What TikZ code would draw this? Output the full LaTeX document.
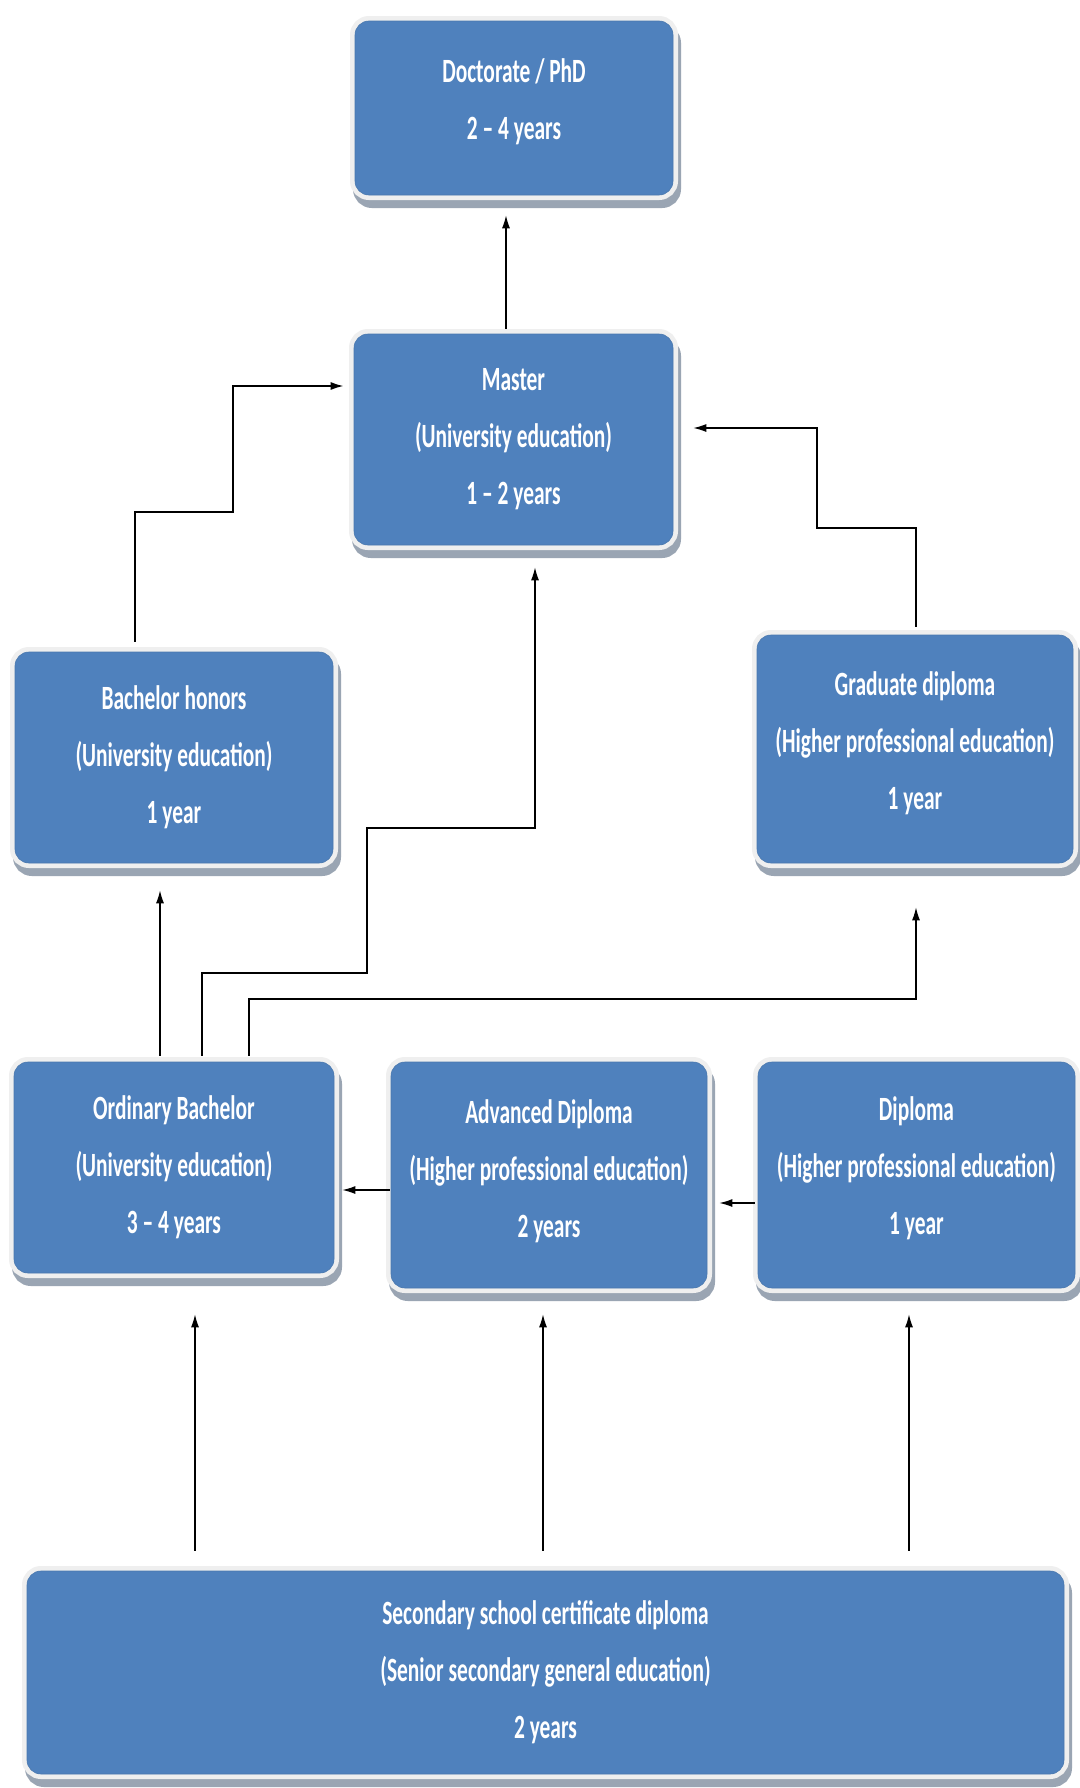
\documentclass[tikz,border=0pt]{standalone}
\usepackage{fontspec}
\setmainfont{Carlito}[FakeStretch=0.63]
\usetikzlibrary{arrows.meta}
\definecolor{boxblue}{HTML}{4F81BD}
\definecolor{boxedge}{HTML}{4A78AE}
\definecolor{framegrey}{HTML}{EFEFEF}
\definecolor{shadowgrey}{HTML}{9AA5B3}
\newcommand{\liftup}[1]{\\[-#1]\mbox{}}
\begin{document}
\begin{tikzpicture}[x=1pt,y=-1pt,
  card/.style={rounded corners=14pt, fill=boxblue, draw=boxedge, line width=0.6pt,
    text=white, font=\fontsize{34}{57}\selectfont\bfseries, align=center, inner sep=0pt,
    preaction={draw=shadowgrey, fill=shadowgrey, line width=10pt, transform canvas={shift={(3pt,-8pt)}}},
    preaction={draw=framegrey, fill=framegrey, line width=10pt}},
  arr/.style={draw=black, line width=1.3pt, -{Latex[length=13pt,width=8pt]}}]
\fill[white] (0,0) rectangle (1079,1788);
\useasboundingbox (0,0) rectangle (1079,1788);

\node[card, minimum width=318pt, minimum height=174pt] (doc) at (514,108) {Doctorate / PhD\\2 – 4 years\liftup{39pt}};
\node[card, minimum width=319pt, minimum height=211pt] (master) at (513.5,439.5) {Master\\(University education)\\1 – 2 years};
\node[card, minimum width=318pt, minimum height=211pt] (honors) at (174,757.5) {Bachelor honors\\(University education)\\1 year};
\node[card, minimum width=316pt, minimum height=228pt] (grad) at (915,749) {Graduate diploma\\(Higher professional education)\\1 year\liftup{41pt}};
\node[card, minimum width=320pt, minimum height=211pt] (ord) at (174,1167.5) {Ordinary Bachelor\\(University education)\\3 – 4 years};
\node[card, minimum width=316pt, minimum height=226pt] (adv) at (549,1175) {Advanced Diploma\\(Higher professional education)\\2 years\liftup{45pt}};
\node[card, minimum width=317pt, minimum height=226pt] (dip) at (916.5,1175) {Diploma\\(Higher professional education)\\1 year\liftup{39pt}};
\node[card, minimum width=1037pt, minimum height=203pt] (sec) at (545.5,1672.5) {Secondary school certificate diploma\\(Senior secondary general education)\\2 years};

% helper coordinates
\coordinate (xdoc) at (506,0);
\coordinate (xh) at (135,0);
\coordinate (h1) at (233,512);
\coordinate (h2) at (0,386);
\coordinate (xg) at (916,0);
\coordinate (g1) at (817,528);
\coordinate (g2) at (0,428);
\coordinate (xo1) at (160,0);
\coordinate (xo2) at (202,0);
\coordinate (o2a) at (367,973);
\coordinate (o2b) at (535,828);
\coordinate (xo3) at (249,0);
\coordinate (o3a) at (916,999);
\coordinate (ya) at (0,1190);
\coordinate (yd) at (0,1203);
\coordinate (xs1) at (195,0);
\coordinate (xs2) at (543,0);
\coordinate (xs3) at (909,0);

\draw[arr] ([yshift=5pt]master.north -| xdoc) -- ([yshift=-20pt]doc.south -| xdoc);
\draw[arr, line width=1.8pt] ([yshift=10pt]honors.north -| xh) |- (h1) |- ([xshift=-10pt]master.west |- h2);
\draw[arr] ([yshift=8pt]grad.north -| xg) |- (g1) |- ([xshift=20pt]master.east |- g2);
\draw[arr] ([yshift=6pt]ord.north -| xo1) -- ([yshift=-27pt]honors.south -| xo1);
\draw[arr] ([yshift=6pt]ord.north -| xo2) |- (o2a) |- (o2b) -- ([yshift=-22pt]master.south -| o2b);
\draw[arr] ([yshift=6pt]ord.north -| xo3) |- (o3a) -- ([yshift=-44pt]grad.south -| o3a);
\draw[arr] ([xshift=-1pt]adv.west |- ya) -- ([xshift=8pt]ord.east |- ya);
\draw[arr] ([xshift=-3pt]dip.west |- yd) -- ([xshift=12pt]adv.east |- yd);
\draw[arr] ([yshift=20pt]sec.north -| xs1) -- ([yshift=-41pt]ord.south -| xs1);
\draw[arr] ([yshift=20pt]sec.north -| xs2) -- ([yshift=-26pt]adv.south -| xs2);
\draw[arr] ([yshift=20pt]sec.north -| xs3) -- ([yshift=-26pt]dip.south -| xs3);
\end{tikzpicture}
\end{document}
